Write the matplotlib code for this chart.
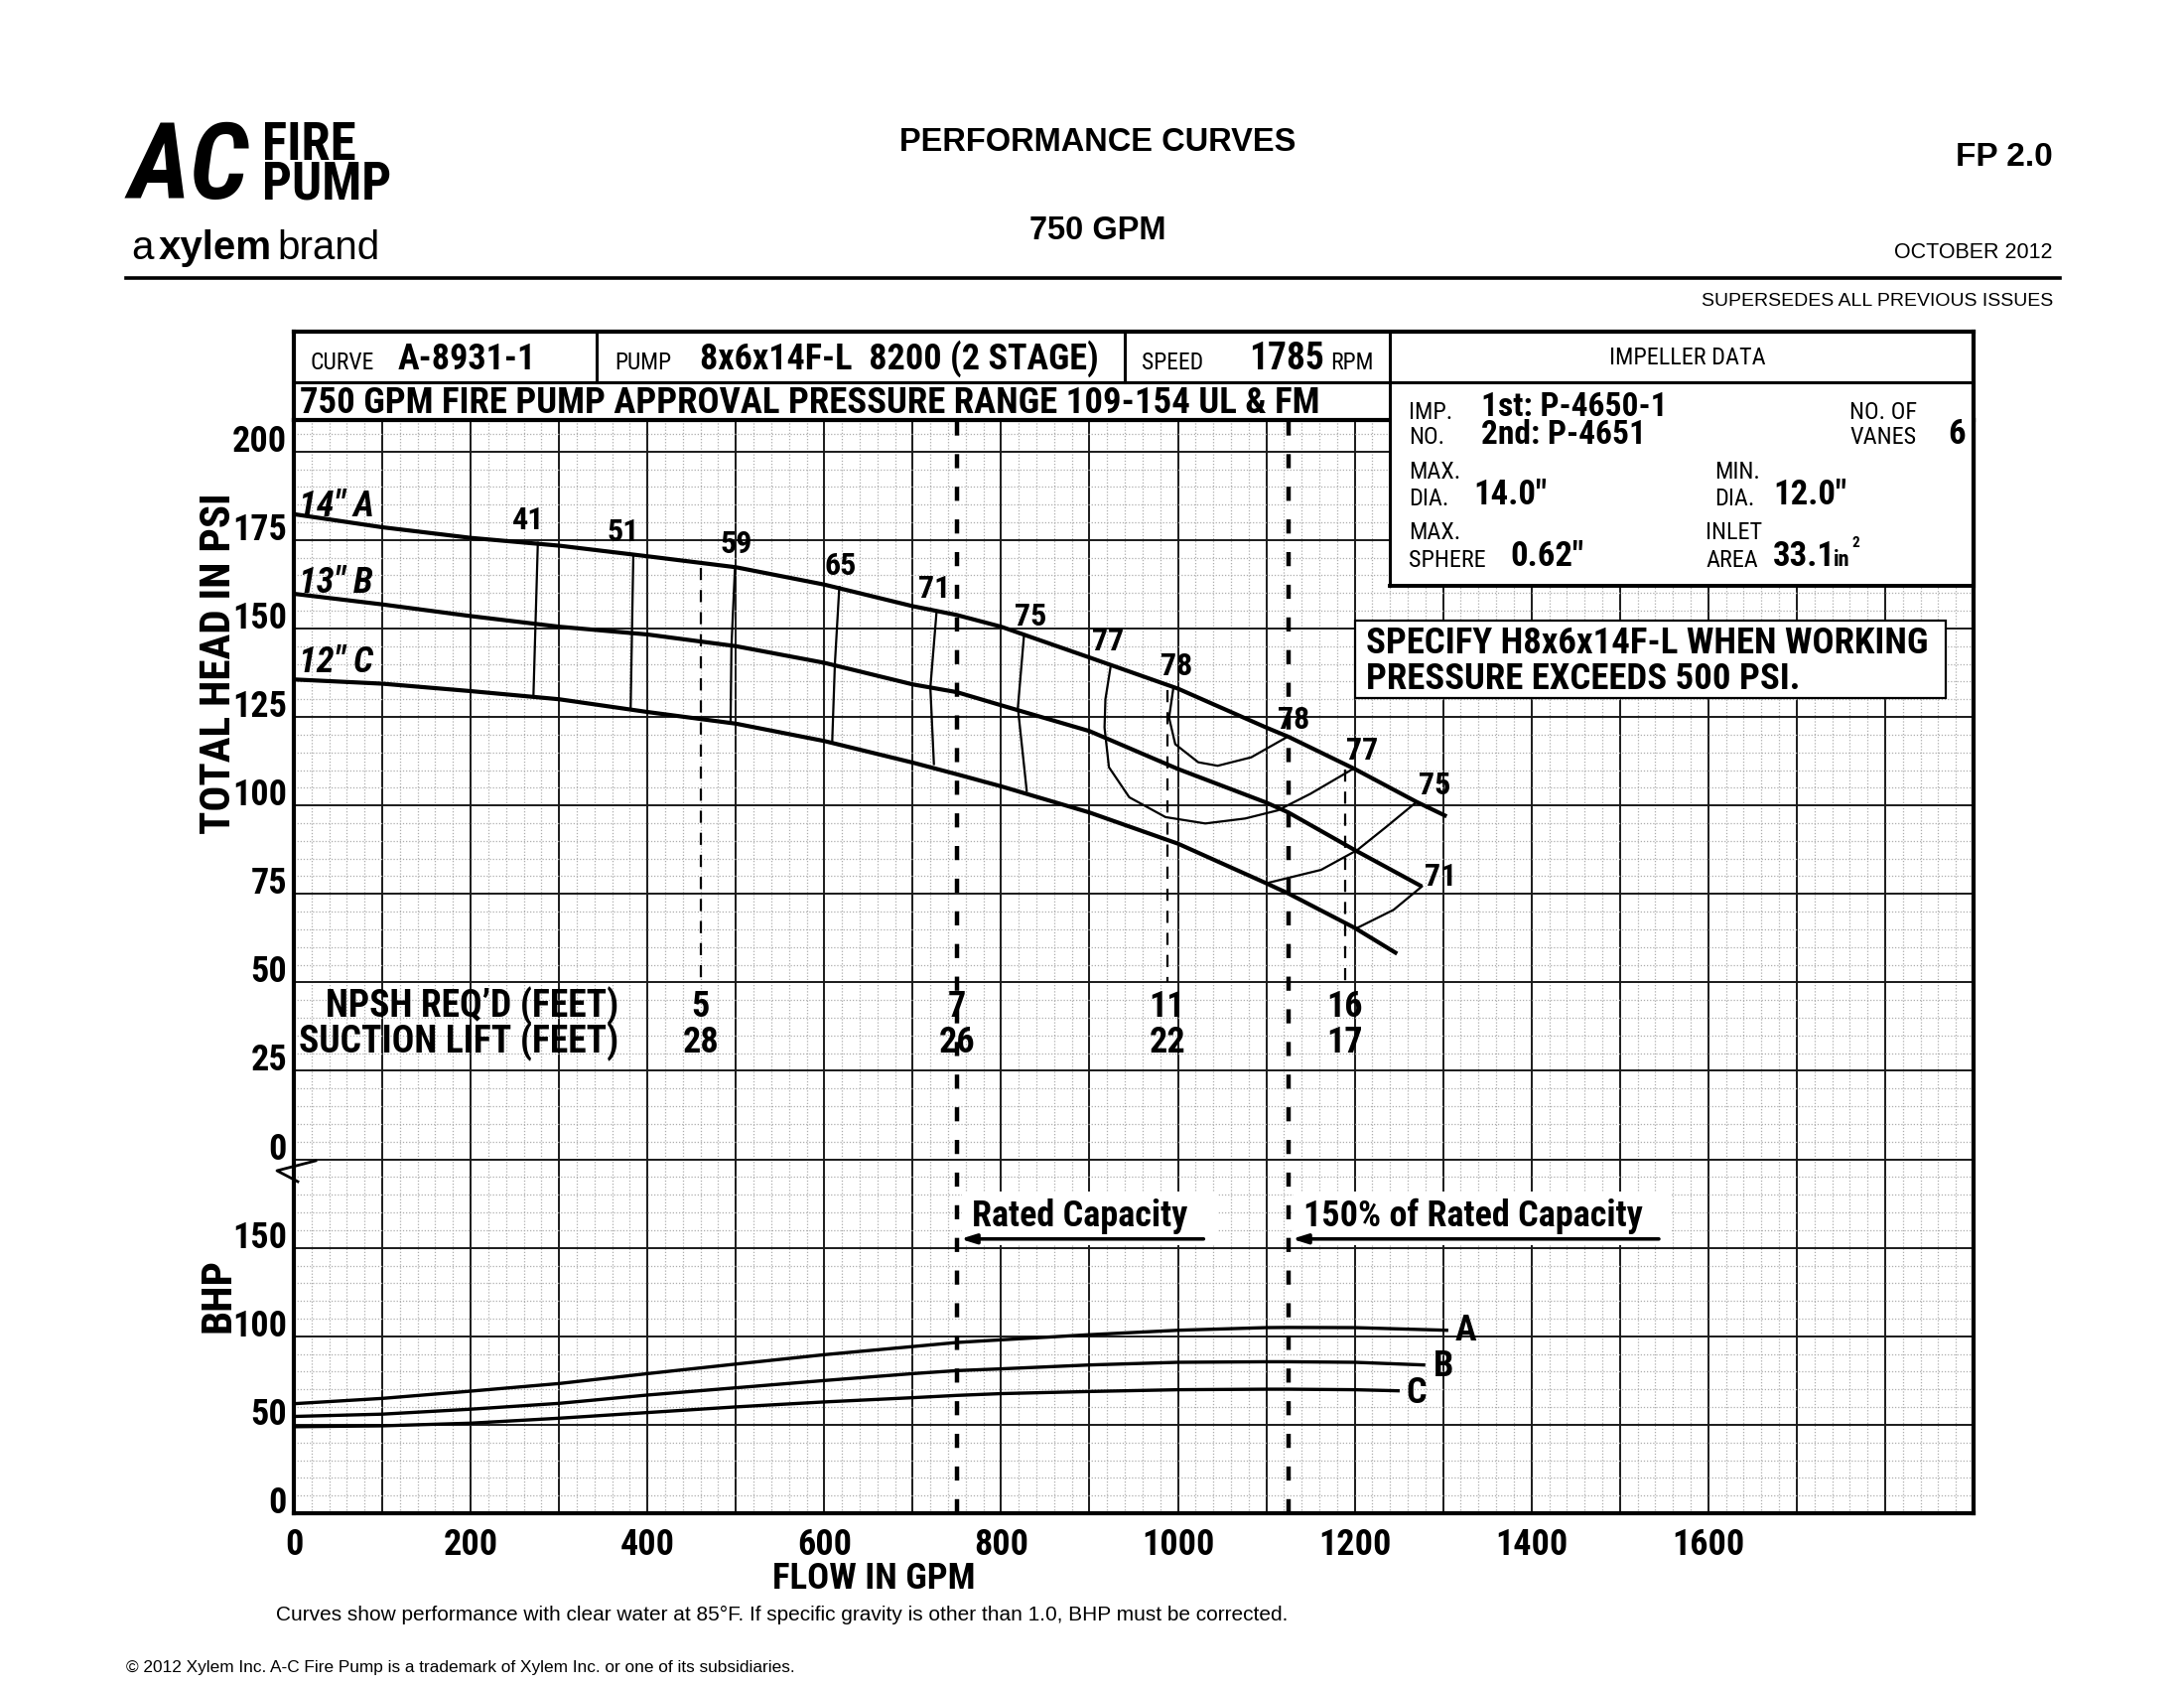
import matplotlib
matplotlib.use("Agg")
import matplotlib.pyplot as plt
from matplotlib.patches import Rectangle
from matplotlib.ticker import MultipleLocator
import numpy as np

# ---------------- data ----------------
# head curves (gpm, psi)
flow_a = [0, 100, 200, 300, 400, 500, 600, 700, 750, 800, 900, 1000, 1100, 1125, 1200, 1270, 1304]
head_a = [182.3, 178.6, 175.6, 173.4, 170.4, 167.3, 162.4, 156.3, 153.8, 150.5, 141.8, 133.0, 122.0, 119.4, 110.3, 101.0, 96.9]
flow_b = [0, 100, 200, 300, 400, 500, 600, 700, 750, 800, 900, 1000, 1100, 1125, 1200, 1276]
head_b = [159.8, 156.8, 153.5, 150.5, 148.3, 145.0, 140.3, 134.2, 132.0, 128.3, 121.0, 110.3, 100.8, 98.0, 87.4, 77.1]
flow_c = [0, 100, 200, 300, 400, 500, 600, 700, 750, 800, 900, 1000, 1100, 1125, 1200, 1248]
head_c = [135.6, 134.4, 132.3, 130.0, 126.4, 123.1, 118.2, 112.1, 108.8, 105.4, 98.0, 89.2, 78.0, 75.1, 65.4, 58.1]
head_labels = ['14" A', '13" B', '12" C']
head_label_pos = [(6, 181.7), (6, 160.0), (6, 137.7)]

# brake horsepower curves (gpm, bhp)
bhp_flow_a = [0, 100, 200, 300, 400, 500, 600, 700, 750, 800, 900, 1000, 1100, 1125, 1200, 1304]
bhp_a = [61.9, 64.9, 69.0, 73.3, 78.9, 84.3, 89.6, 94.2, 96.5, 98.0, 100.9, 103.4, 104.9, 105.0, 104.9, 103.4]
bhp_flow_b = [0, 100, 200, 300, 400, 500, 600, 700, 750, 800, 900, 1000, 1100, 1125, 1200, 1278]
bhp_b = [54.7, 56.0, 58.8, 62.1, 66.8, 70.9, 75.0, 78.9, 80.6, 81.6, 83.8, 85.3, 85.6, 85.6, 85.3, 83.8]
bhp_flow_c = [0, 100, 200, 300, 400, 500, 600, 700, 750, 800, 900, 1000, 1100, 1125, 1200, 1249]
bhp_c = [48.9, 49.4, 50.9, 53.7, 56.9, 60.1, 62.9, 65.3, 66.6, 67.6, 68.8, 69.8, 70.1, 70.1, 69.8, 69.2]
bhp_labels = ["A", "B", "C"]
bhp_label_pos = [(1326, 103), (1300, 83), (1270, 67.8)]

# iso-efficiency lines (%), list of (gpm, psi)
eff_lines = {
    "41": [(276, 174.2), (271, 130.9)],
    "51": [(384, 170.7), (381, 127.8)],
    "59": [(499, 167.3), (495, 145.0), (494, 123.4)],
    "65": [(617, 161.7), (612, 140.0), (609, 118.2)],
    "71": [(727, 154.7), (720, 133.3), (724, 111.7)],
    "75": [(826, 148.3), (819, 127.6), (829, 104.1)],
    "77": [(924, 139.4), (918, 130.0), (917, 122.0), (922, 110.8), (945, 102.3), (986, 96.7),
           (1031, 94.9), (1076, 96.3), (1113, 98.6), (1150, 103.3), (1200, 110.6)],
    "78": [(995, 133.4), (990, 124.8), (997, 117.3), (1023, 112.2), (1045, 111.2),
           (1083, 113.6), (1124, 119.4)],
    "75r": [(1270, 101.0), (1236, 94.0), (1203, 87.4), (1162, 81.8), (1100, 78.0)],
    "71r": [(1276, 77.1), (1244, 70.5), (1203, 65.4)],
}
eff_text = ["41", "51", "59", "65", "71", "75", "77", "78", "78", "77", "75", "71"]
eff_text_pos = [(265, 177.9), (372, 174.6), (501, 171.3), (618, 165.2), (724, 158.7),
                (833, 150.9), (921, 143.9), (998, 136.9), (1131, 121.7), (1208, 113.0),
                (1291, 103.2), (1297, 77.4)]

# NPSH required / suction lift
npsh_flow = [460, 750, 988, 1189]
npsh_req = ["5", "7", "11", "16"]
suction_lift = ["28", "26", "22", "17"]
npsh_marker_flow = [460, 988, 1189]

rated_flow = 750
rated_150 = 1125

head_ticks = [0, 25, 50, 75, 100, 125, 150, 175, 200]
bhp_ticks = [0, 50, 100, 150]
flow_ticks = [0, 200, 400, 600, 800, 1000, 1200, 1400, 1600]

# ---------------- fonts ----------------
NAR = ["Roboto Condensed", "Pragati Narrow", "DejaVu Sans"]   # stands in for Arial Narrow
REG = ["Liberation Sans", "DejaVu Sans"]

fig = plt.figure(figsize=(22, 17), dpi=100)

# ---------------- chart axes ----------------
ax = fig.add_axes([296 / 2200, 176 / 1700, 1692 / 2200, 1101 / 1700])
ax.set_xlim(0, 1900)
ax.set_ylim(-100, 208.9)   # head scale, the 4 cells below 0 psi hold the BHP part
axb = ax.twinx()
axb.set_ylim(0, 617.8)     # same cells: 50 bhp per 25 psi

ax.xaxis.set_major_locator(MultipleLocator(100))
ax.xaxis.set_minor_locator(MultipleLocator(20))
ax.yaxis.set_major_locator(MultipleLocator(25))
ax.yaxis.set_minor_locator(MultipleLocator(5))
ax.grid(which="major", color="#1a1a1a", lw=1.4)
ax.grid(which="minor", color="#adadad", lw=0.9, ls=(0, (1, 1.5)))
ax.set_axisbelow(True)

xt = np.arange(0, 1901, 100)
ax.set_xticks(xt)
ax.set_xticklabels([str(v) if v in flow_ticks else "" for v in xt],
                   fontsize=26, fontweight="bold", family=NAR)
yt = np.arange(-100, 201, 25)
ax.set_yticks(yt)
ax.set_yticklabels([str(v) if v in head_ticks else "" for v in yt],
                   fontsize=26, fontweight="bold", family=NAR, va="baseline")
axb.set_yticks(bhp_ticks)
axb.set_yticklabels([str(v) for v in bhp_ticks],
                    fontsize=26, fontweight="bold", family=NAR, va="baseline")
axb.yaxis.set_ticks_position("left")
ax.tick_params(axis="both", which="both", length=0)
ax.tick_params(axis="x", pad=10)
ax.tick_params(axis="y", pad=5)
axb.tick_params(axis="y", length=0, pad=5)
for s in ax.spines.values():
    s.set_linewidth(3)
for s in axb.spines.values():
    s.set_visible(False)

# head curves
for fl, hd in [(flow_a, head_a), (flow_b, head_b), (flow_c, head_c)]:
    ax.plot(fl, hd, color="k", lw=3.0, solid_capstyle="butt", zorder=4)
for lab, (x, y) in zip(head_labels, head_label_pos):
    ax.text(x, y, lab, fontsize=26, fontweight="bold", style="italic",
            family=NAR, ha="left", va="baseline", zorder=5)

# efficiency lines
for pts in eff_lines.values():
    ex, ey = zip(*pts)
    ax.plot(ex, ey, color="k", lw=1.6, zorder=4)
for lab, (x, y) in zip(eff_text, eff_text_pos):
    ax.text(x, y, lab, fontsize=23, fontweight="bold", family=NAR,
            ha="center", va="baseline", zorder=5)

# rated capacity lines
for f in [rated_flow, rated_150]:
    ax.axvline(f, color="k", lw=3.2, ls=(0, (3.2, 4.2)), zorder=4)

# NPSH markers and table
for f in npsh_marker_flow:
    top = np.interp(f, flow_a, head_a)
    ax.plot([f, f], [top - 1.5, 50], color="k", lw=1.6, ls=(0, (5.5, 4.5)), zorder=3)
ax.text(368, 40.2, "NPSH REQ\u2019D (FEET)", fontsize=27, fontweight="bold",
        family=NAR, ha="right", va="baseline", zorder=5)
ax.text(368, 30.1, "SUCTION LIFT (FEET)", fontsize=27, fontweight="bold",
        family=NAR, ha="right", va="baseline", zorder=5)
for f, n, s in zip(npsh_flow, npsh_req, suction_lift):
    ax.text(f, 40.2, n, fontsize=26, fontweight="bold", family=NAR,
            ha="center", va="baseline", zorder=5)
    ax.text(f, 30.1, s, fontsize=26, fontweight="bold", family=NAR,
            ha="center", va="baseline", zorder=5)

# rated capacity captions with arrows
for x0, x1, label in [(753, 1035, "Rated Capacity"), (1128, 1550, "150% of Rated Capacity")]:
    ax.add_patch(Rectangle((x0 + 3, -24.2), x1 - x0 + 6, 15, fc="white", ec="none", zorder=2))
    ax.text(x0 + 14, -18.8, label, fontsize=26, fontweight="bold", family=NAR,
            ha="left", va="baseline", zorder=5)
    ax.annotate("", xy=(x0 + 1, -22.5), xytext=(x1 - 6, -22.5),
                arrowprops=dict(arrowstyle="-|>,head_length=0.9,head_width=0.28",
                                lw=2.6, color="k", shrinkA=0, shrinkB=0), zorder=5)

# bhp curves
for fl, bp in [(bhp_flow_a, bhp_a), (bhp_flow_b, bhp_b), (bhp_flow_c, bhp_c)]:
    axb.plot(fl, bp, color="k", lw=2.4, zorder=4)
for lab, (x, y) in zip(bhp_labels, bhp_label_pos):
    axb.text(x, y, lab, fontsize=26, fontweight="bold", family=NAR,
             ha="center", va="center", zorder=5)

# ---------------- page overlay (header, logo, notes) ----------------
page = fig.add_axes([0, 0, 1, 1], zorder=5)
page.set_xlim(0, 2200)
page.set_ylim(1700, 0)
page.axis("off")


def line(xs, ys, lw=2.2):
    page.plot(xs, ys, color="k", lw=lw, solid_capstyle="projecting")


def txt(x, y, s, size, bold=False, fam=NAR, ha="left", **kw):
    page.text(x, y, s, fontsize=size, fontweight="bold" if bold else "normal",
              family=fam, ha=ha, va="baseline", **kw)


# impeller data box covers the grid
page.add_patch(Rectangle((1400, 385), 588, 205, fc="white", ec="none"))
line([296, 1988], [334, 334], 3)
line([296, 296], [334, 423], 3)
line([1988, 1988], [334, 590], 3)
line([296, 1988], [385, 385])
line([601, 601], [334, 385])
line([1133, 1133], [334, 385])
line([1400, 1400], [334, 590])
line([296, 1400], [423, 423])
line([1400, 1988], [590, 590], 2.8)

txt(312, 372, "CURVE", 17)
txt(401, 372, "A-8931-1", 26, True)
txt(619, 372, "PUMP", 17)
txt(705, 372, "8x6x14F-L  8200 (2 STAGE)", 26, True)
txt(1150, 372, "SPEED", 17)
txt(1258, 372, "1785", 27, True)
txt(1340, 372, "RPM", 17)
txt(1700, 367, "IMPELLER DATA", 17.5, ha="center")
txt(302, 416, "750 GPM FIRE PUMP APPROVAL PRESSURE RANGE 109-154 UL & FM", 26.5, True)

txt(1419, 422, "IMP.", 17.5)
txt(1419, 447, "NO.", 17.5)
txt(1492, 419, "1st: P-4650-1", 24, True)
txt(1492, 447, "2nd: P-4651", 24, True)
txt(1863, 422, "NO. OF", 17.5)
txt(1863, 447, "VANES", 17.5)
txt(1962, 447, "6", 25, True)
txt(1419, 482, "MAX.", 17.5)
txt(1419, 509, "DIA.", 17.5)
txt(1484, 508, "14.0\"", 25, True)
txt(1727, 482, "MIN.", 17.5)
txt(1727, 509, "DIA.", 17.5)
txt(1786, 508, "12.0\"", 25, True)
txt(1419, 543, "MAX.", 17.5)
txt(1419, 571, "SPHERE", 17.5)
txt(1521, 570, "0.62\"", 25, True)
txt(1718, 543, "INLET", 17.5)
txt(1718, 571, "AREA", 17.5)
txt(1786, 570, "33.1", 25, True)
txt(1847, 570, "in", 16, True)
txt(1865, 551, "2", 11, True)

# high-pressure note
page.add_patch(Rectangle((1365, 625), 595, 78, fc="white", ec="k", lw=1.6))
txt(1376, 658, "SPECIFY H8x6x14F-L WHEN WORKING", 26.5, True)
txt(1376, 694, "PRESSURE EXCEEDS 500 PSI.", 26.5, True)

# axis titles
page.text(220, 668, "TOTAL HEAD IN PSI", fontsize=31, fontweight="bold", family=NAR,
          rotation=90, ha="center", va="center")
page.text(220, 1305, "BHP", fontsize=31, fontweight="bold", family=NAR,
          rotation=90, ha="center", va="center")
txt(880, 1600, "FLOW IN GPM", 26.5, True, ha="center")

# broken axis mark
page.plot([318, 279, 300], [1169, 1179, 1190], color="k", lw=2)

# title block
txt(1106, 152, "PERFORMANCE CURVES", 23.5, True, fam=REG, ha="center")
txt(1106, 241, "750 GPM", 23.5, True, fam=REG, ha="center")
txt(2068, 167, "FP 2.0", 24, True, fam=REG, ha="right")
txt(2068, 260, "OCTOBER 2012", 15.5, fam=REG, ha="right")
txt(2068, 308, "SUPERSEDES ALL PREVIOUS ISSUES", 14, fam=REG, ha="right")
line([127, 2075], [280, 280], 2.6)

# logo
txt(130, 200, "AC", 77, True, style="italic")
txt(264, 161, "FIRE", 38, True)
txt(264, 200, "PUMP", 38, True)
txt(132, 261, "a", 29, fam=REG)
txt(160, 261, "xylem", 29, True, fam=REG)
txt(279, 261, "brand", 29, fam=REG)

# notes
txt(278, 1632, "Curves show performance with clear water at 85\u00b0F. If specific gravity is other "
    "than 1.0, BHP must be corrected.", 15, fam=REG)
txt(127, 1684, "\u00a9 2012 Xylem Inc. A-C Fire Pump is a trademark of Xylem Inc. or one of its "
    "subsidiaries.", 12.4, fam=REG)

fig.savefig("out.png", dpi=100)
